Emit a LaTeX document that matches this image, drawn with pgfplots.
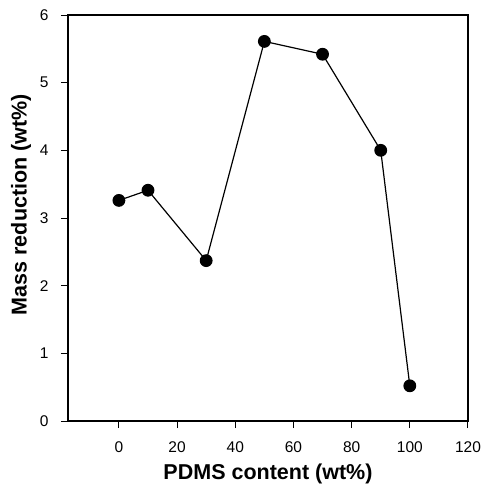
\documentclass[border=0pt]{standalone}
\usepackage{fontspec}
\setmainfont{Liberation Sans}
\usepackage{pgfplots}
\pgfplotsset{compat=1.18}
\begin{document}
\begin{tikzpicture}
\begin{axis}[
  scale only axis, width=400pt, height=406pt,
  xmin=-17.5, xmax=120, ymin=0, ymax=6,
  xtick={0,20,...,120}, ytick={0,1,...,6},
  tick align=outside, tick pos=left,
  major tick length=7pt,
  axis line style={line width=1.1pt},
  every tick/.style={black, line width=1pt},
  tick label style={font=\fontsize{15.5}{17}\selectfont},
  /pgf/number format/assume math mode=true,
  xticklabel style={yshift=-10pt},
  yticklabel style={xshift=-9pt},
  xlabel={PDMS content (wt\%)},
  ylabel={Mass reduction (wt\%)},
  label style={font=\fontsize{21.5}{24}\selectfont\bfseries},
  xlabel style={at={(ticklabel cs:0.5,5pt)}},
  ylabel style={at={(ticklabel cs:0.533,2pt)}},
]
\addplot[black, line width=1.2pt, mark=*, mark size=5.8pt, mark options={fill=black}]
  coordinates {(0,3.26) (10,3.41) (30,2.37) (50,5.61) (70,5.42) (90,4.0) (100,0.52)};
\end{axis}
\pgfresetboundingbox
\path[use as bounding box] ([shift={(-68pt,-70pt)}]current axis.south west) rectangle ([shift={(15pt,15pt)}]current axis.north east);
\end{tikzpicture}
\end{document}
